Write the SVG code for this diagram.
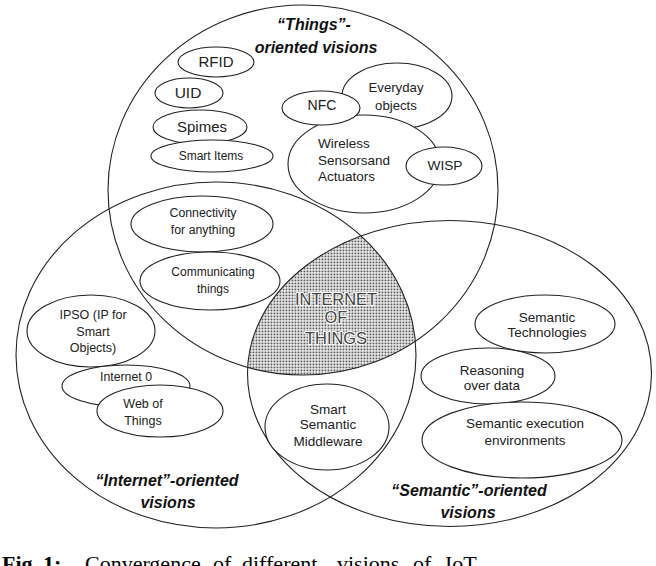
<svg xmlns="http://www.w3.org/2000/svg" width="656" height="566" viewBox="0 0 656 566">
<defs>
<pattern id="dots" width="3" height="3" patternUnits="userSpaceOnUse"><rect width="3" height="3" fill="#fff"/><rect x="0.5" y="0.5" width="1.9" height="1.9" fill="#5a5a5a"/></pattern>
<clipPath id="clipI"><ellipse cx="216" cy="355" rx="200" ry="173"/></clipPath>
<clipPath id="clipS"><ellipse cx="449.5" cy="373.5" rx="202" ry="153"/></clipPath>
</defs>
<style>
.big{fill:none;stroke:#222;stroke-width:1.1}
.node ellipse{fill:#fff;stroke:#222;stroke-width:1.1}
.t{font-family:"Liberation Sans",Arial,sans-serif;fill:#222;text-anchor:middle}
.ts{font-family:"Liberation Sans",Arial,sans-serif;fill:#222;text-anchor:start}
.iot{font-family:"Liberation Sans",Arial,sans-serif;font-size:16.4px;fill:#444;stroke:#fff;stroke-width:2;paint-order:stroke;text-anchor:middle}
.lbl{font-family:"Liberation Sans",Arial,sans-serif;font-weight:bold;font-style:italic;font-size:16px;fill:#111;text-anchor:middle}
.cap{font-family:"Liberation Serif","Times New Roman",serif;font-size:22px;fill:#000}
</style>
<rect width="656" height="566" fill="#fff"/>

<g id="iot-core">
<g clip-path="url(#clipI)"><g clip-path="url(#clipS)"><ellipse cx="303" cy="190" rx="195" ry="185" fill="url(#dots)"/></g></g>
</g>

<g id="things-vision">
<ellipse class="big" cx="303" cy="190" rx="195" ry="185"/>
<text class="lbl" x="314" y="30">“Things”-</text>
<text class="lbl" x="316" y="53">oriented visions</text>
</g>
<g id="internet-vision">
<ellipse class="big" cx="216" cy="355" rx="200" ry="173"/>
<text class="lbl" x="167" y="486">“Internet”-oriented</text>
<text class="lbl" x="168" y="508">visions</text>
</g>
<g id="semantic-vision">
<ellipse class="big" cx="449.5" cy="373.5" rx="202" ry="153"/>
<text class="lbl" x="469" y="496">“Semantic”-oriented</text>
<text class="lbl" x="468" y="518">visions</text>
</g>

<g id="rfid" class="node"><ellipse cx="216" cy="62" rx="38" ry="15"/><text class="t" x="216" y="67" font-size="15">RFID</text></g>
<g id="uid" class="node"><ellipse cx="189" cy="93" rx="34" ry="15"/><text class="t" x="188" y="98" font-size="15.5">UID</text></g>
<g id="spimes" class="node"><ellipse cx="200" cy="127" rx="47" ry="17"/><text class="t" x="202" y="132" font-size="15">Spimes</text></g>
<g id="smart-items" class="node"><ellipse cx="212" cy="156" rx="61" ry="16"/><text class="t" x="211" y="160" font-size="12">Smart Items</text></g>

<g id="everyday-objects" class="node"><ellipse cx="397" cy="96" rx="55" ry="33"/><text class="t" x="396" y="92" font-size="13.2">Everyday</text><text class="t" x="396" y="110" font-size="13.2">objects</text></g>
<g id="wireless-sensors" class="node"><ellipse cx="364" cy="164" rx="76" ry="49"/><text class="ts" x="318" y="148" font-size="13.5">Wireless</text><text class="ts" x="318" y="165" font-size="13.5">Sensorsand</text><text class="ts" x="318" y="181" font-size="13.5">Actuators</text></g>
<g id="nfc" class="node"><ellipse cx="321" cy="108" rx="39" ry="17"/><text class="t" x="322" y="110" font-size="14">NFC</text></g>
<g id="wisp" class="node"><ellipse cx="444" cy="166" rx="38" ry="19"/><text class="t" x="445" y="170" font-size="13.7">WISP</text></g>

<g id="connectivity" class="node"><ellipse cx="202" cy="224" rx="71" ry="28"/><text class="t" x="203" y="217" font-size="12.3">Connectivity</text><text class="t" x="203" y="234" font-size="12.3">for anything</text></g>
<g id="communicating" class="node"><ellipse cx="210" cy="281" rx="70" ry="29"/><text class="t" x="213" y="276" font-size="12">Communicating</text><text class="t" x="213" y="293" font-size="12">things</text></g>

<g id="ipso" class="node"><ellipse cx="91" cy="331" rx="64" ry="36"/><text class="t" x="93" y="319" font-size="12.5">IPSO (IP for</text><text class="t" x="93" y="336" font-size="12.5">Smart</text><text class="t" x="93" y="352" font-size="12.5">Objects)</text></g>
<g id="internet0" class="node"><ellipse cx="126" cy="386" rx="64" ry="21"/><text class="t" x="126" y="381" font-size="12.3">Internet 0</text></g>
<g id="web-of-things" class="node"><ellipse cx="160" cy="411" rx="63" ry="26"/><text class="t" x="143" y="408" font-size="12.5">Web of</text><text class="t" x="143" y="425" font-size="12.5">Things</text></g>

<g id="smart-semantic-middleware" class="node"><ellipse cx="327" cy="427" rx="62" ry="43"/><text class="t" x="328" y="414" font-size="13.5">Smart</text><text class="t" x="328" y="429" font-size="13.5">Semantic</text><text class="t" x="328" y="446" font-size="13.5">Middleware</text></g>
<g id="semantic-technologies" class="node"><ellipse cx="545" cy="324" rx="70" ry="29"/><text class="t" x="547" y="322" font-size="13.5">Semantic</text><text class="t" x="547" y="337" font-size="13.5">Technologies</text></g>
<g id="reasoning" class="node"><ellipse cx="488" cy="376" rx="67" ry="28"/><text class="t" x="492" y="375" font-size="13.5">Reasoning</text><text class="t" x="492" y="390" font-size="13.5">over data</text></g>
<g id="semantic-execution" class="node"><ellipse cx="522" cy="440" rx="100" ry="38"/><text class="t" x="525" y="428" font-size="13.5">Semantic execution</text><text class="t" x="525" y="445" font-size="13.5">environments</text></g>

<g id="iot-label">
<text class="iot" x="336" y="305">INTERNET</text>
<text class="iot" x="336" y="323">OF</text>
<text class="iot" x="336" y="344">THINGS</text>
</g>

<g id="caption">
<text class="cap" y="571"><tspan x="2" font-weight="bold">Fig.</tspan><tspan x="43" font-weight="bold">1:</tspan><tspan x="85">Convergence</tspan><tspan x="213">of</tspan><tspan x="242">different</tspan><tspan x="337">visions</tspan><tspan x="413">of</tspan><tspan x="445">IoT</tspan></text>
</g>
</svg>
